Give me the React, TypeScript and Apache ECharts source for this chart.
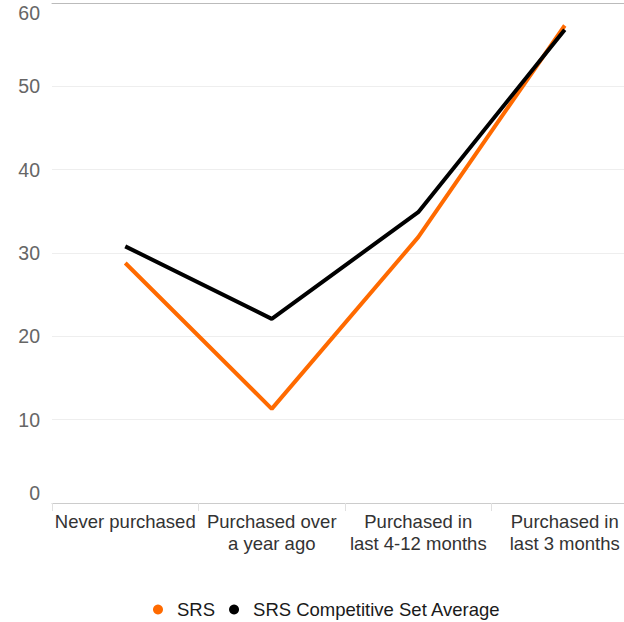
import React, { useEffect, useRef } from "react";
import * as echarts from "echarts";

const categories = [
  "Never purchased",
  "Purchased over\na year ago",
  "Purchased in\nlast 4-12 months",
  "Purchased in\nlast 3 months",
];
const srsValues = [28.8, 11.3, 31.9, 57.3];
const competitiveValues = [30.8, 22.1, 34.9, 56.8];
const seriesNames = ["SRS", "SRS Competitive Set Average"];

export default function App() {
  const ref = useRef<HTMLDivElement>(null);
  useEffect(() => {
    if (!ref.current) return;
    const chart = echarts.init(ref.current, null, { renderer: "svg" });
    const font = "'Liberation Sans', Arial, sans-serif";
    chart.setOption({
      animation: false,
      textStyle: { fontFamily: font },
      grid: { left: 52, right: 2, top: 3, bottom: 119, containLabel: false },
      legend: {
        left: 148,
        top: 595,
        icon: "circle",
        itemWidth: 28,
        itemHeight: 10,
        itemGap: 14,
        textStyle: { fontSize: 18.5, color: "#1a1a1a", fontFamily: font },
        data: seriesNames,
      },
      xAxis: [
        {
          type: "category",
          data: categories,
          boundaryGap: true,
          axisLine: { lineStyle: { color: "#cccccc", width: 1 } },
          axisTick: { show: true, length: 8, lineStyle: { color: "#e0e0e0" } },
          axisLabel: {
            fontSize: 18.5,
            color: "#333333",
            lineHeight: 22,
            margin: 7,
            interval: 0,
            fontFamily: font,
          },
        },
        {
          type: "category",
          data: categories,
          position: "top",
          axisLine: { show: true, lineStyle: { color: "#bbbbbb", width: 1 } },
          axisTick: { show: false },
          axisLabel: { show: false },
        },
      ],
      yAxis: {
        type: "value",
        min: 0,
        max: 60,
        interval: 10,
        axisLine: { show: false },
        axisTick: { show: false },
        splitLine: { lineStyle: { color: "#eeeeee", width: 1 } },
        axisLabel: {
          fontSize: 19.5,
          color: "#666666",
          margin: 12,
          fontFamily: font,
          verticalAlignMinLabel: "bottom",
          verticalAlignMaxLabel: "top",
        },
      },
      series: [
        {
          name: seriesNames[0],
          type: "line",
          data: srsValues,
          symbol: "none",
          color: "#ff6a00",
          lineStyle: { width: 4, color: "#ff6a00" },
        },
        {
          name: seriesNames[1],
          type: "line",
          data: competitiveValues,
          symbol: "none",
          color: "#000000",
          lineStyle: { width: 4, color: "#000000" },
        },
      ],
    });
    return () => chart.dispose();
  }, []);
  return (
    <div
      style={{
        position: "fixed",
        left: 0,
        top: 0,
        width: 624,
        height: 622,
        overflow: "hidden",
        background: "#fff",
      }}
    >
      <div ref={ref} style={{ width: 640, height: 622 }} />
    </div>
  );
}
